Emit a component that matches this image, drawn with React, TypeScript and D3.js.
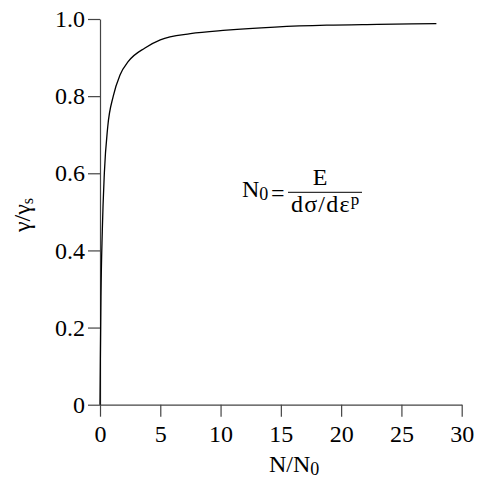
import React, { useEffect, useRef } from 'react';
import * as d3 from 'd3';

// values (N/N0 vs gamma/gamma_s)
const nRatio = [0, 0.03, 0.08, 0.19, 0.36, 0.64, 1.1, 1.66, 2.35, 3.73, 5.0, 7.5, 10.5, 14.5, 18.8, 23, 27.9];
const gammaRatio = [0, 0.12, 0.28, 0.45, 0.6, 0.72, 0.8, 0.855, 0.89, 0.925, 0.946, 0.962, 0.971, 0.979, 0.984, 0.986, 0.988];

const xTicks = [0, 5, 10, 15, 20, 25, 30];
const yTicks = [0, 0.2, 0.4, 0.6, 0.8, 1.0];

const FONT = '"Liberation Serif", "Times New Roman", serif';

export default function App() {
  const svgRef = useRef<SVGSVGElement>(null);
  const width = 480;
  const height = 477;
  const margin = { left: 100, right: 18.3, top: 19, bottom: 72.3 };

  useEffect(() => {
    const svg = d3.select(svgRef.current);
    svg.selectAll('*').remove();

    const x = d3.scaleLinear().domain([0, 30]).range([margin.left, width - margin.right]);
    const y = d3.scaleLinear().domain([0, 1]).range([height - margin.bottom, margin.top]);

    // x axis
    const gx = svg.append('g')
      .attr('transform', `translate(0, ${y(0)})`)
      .call(d3.axisBottom(x).tickValues(xTicks).tickSize(12).tickSizeOuter(0).tickPadding(8).tickFormat(d3.format('d')));

    // y axis
    const gy = svg.append('g')
      .attr('transform', `translate(${x(0)}, 0)`)
      .call(d3.axisLeft(y).tickValues(yTicks).tickSize(12).tickSizeOuter(0).tickPadding(3)
        .tickFormat(d => (+d === 0 ? '0' : d3.format('.1f')(+d))));

    [gx, gy].forEach(g => {
      g.selectAll('path, line').attr('stroke', '#444').attr('stroke-width', 1.2);
      g.selectAll('text').attr('font-family', FONT).attr('font-size', 24).attr('fill', '#000');
    });

    // curve
    const pts = nRatio.map((n, i) => [n, gammaRatio[i]] as [number, number]);
    const line = d3.line<[number, number]>()
      .x(d => x(d[0]))
      .y(d => y(d[1]))
      .curve(d3.curveMonotoneX);
    svg.append('path')
      .datum(pts)
      .attr('d', line)
      .attr('fill', 'none')
      .attr('stroke', '#000')
      .attr('stroke-width', 1.3);

    // x title
    const xt = svg.append('text')
      .attr('x', 269).attr('y', 471.5)
      .attr('font-family', FONT).attr('font-size', 24);
    xt.append('tspan').text('N/N');
    xt.append('tspan').attr('font-size', 18).attr('dy', 3).text('0');

    // y title
    const yt = svg.append('text')
      .attr('transform', 'translate(30, 215) rotate(-90)')
      .attr('text-anchor', 'middle')
      .attr('font-family', FONT).attr('font-size', 24);
    yt.append('tspan').text('γ/γ');
    yt.append('tspan').attr('font-size', 16).attr('dy', 3).text('s');

    // annotation: N0 = E / (dσ/dε^p)
    const ann = svg.append('g').attr('font-family', FONT).attr('font-size', 24);
    const lhs = ann.append('text').attr('x', 242).attr('y', 196.5);
    lhs.append('tspan').text('N');
    lhs.append('tspan').attr('font-size', 18).attr('dy', 3).text('0');
    ann.append('text').attr('x', 271).attr('y', 201).text('=');
    ann.append('line')
      .attr('x1', 288).attr('x2', 362).attr('y1', 192.3).attr('y2', 192.3)
      .attr('stroke', '#000').attr('stroke-width', 1);
    ann.append('text').attr('x', 320).attr('y', 185).attr('text-anchor', 'middle').text('E');
    const den = ann.append('text').attr('x', 291).attr('y', 212).attr('letter-spacing', 1.2);
    den.append('tspan').text('dσ/dε');
    den.append('tspan').attr('font-size', 17).attr('dy', -7).text('p');
  }, []);

  return (
    <svg
      ref={svgRef}
      width={width}
      height={height}
      style={{ position: 'absolute', left: 0, top: 0, background: '#fff' }}
    />
  );
}
